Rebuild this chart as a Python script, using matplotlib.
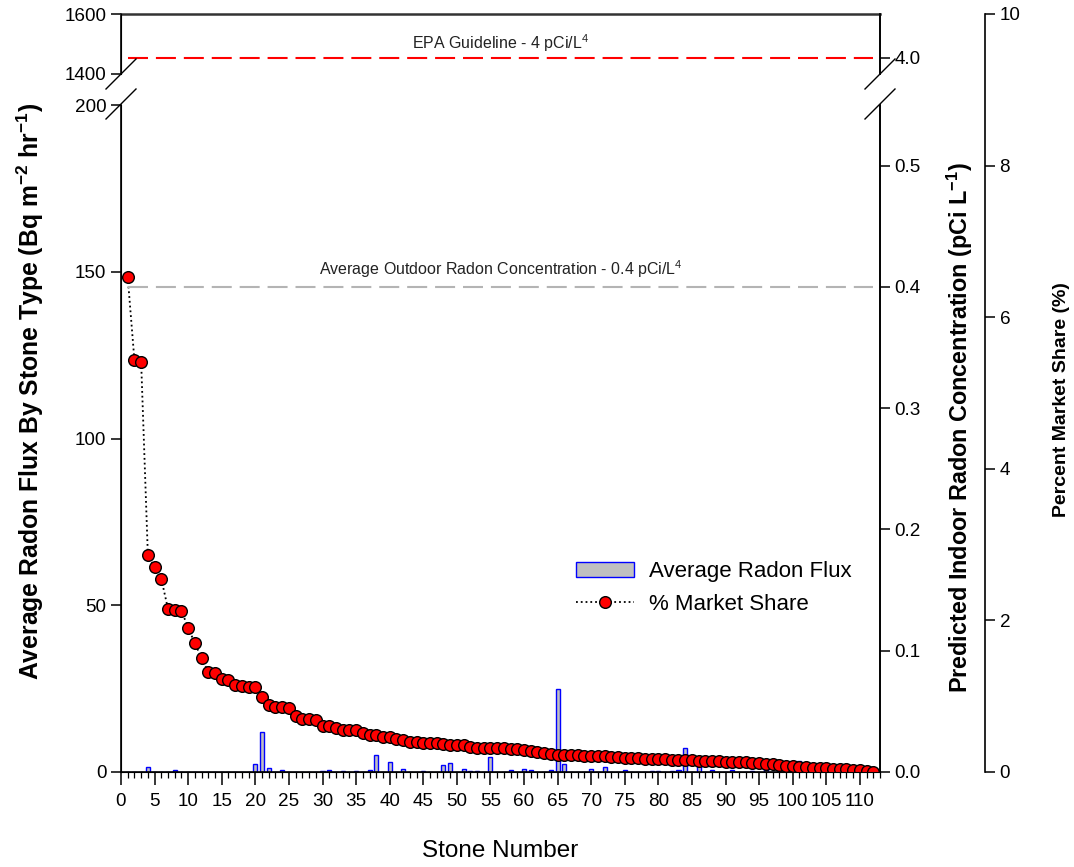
import numpy as np
import matplotlib
matplotlib.use("Agg")
import matplotlib.pyplot as plt
from matplotlib.lines import Line2D
from matplotlib.patches import Patch
from matplotlib.ticker import MultipleLocator, FixedLocator

plt.rcParams['font.family'] = ['Liberation Sans', 'DejaVu Sans']
plt.rcParams['mathtext.fontset'] = 'custom'
plt.rcParams['mathtext.rm'] = 'Liberation Sans'
plt.rcParams['mathtext.it'] = 'Liberation Sans:italic'
plt.rcParams['mathtext.bf'] = 'Liberation Sans:bold'

# ---------------- data ----------------
stones = list(range(1, 113))

market_share = [
    6.53, 5.43, 5.41, 2.86, 2.70, 2.55, 2.15, 2.14, 2.13, 1.90,
    1.70, 1.50, 1.32, 1.31, 1.23, 1.21, 1.15, 1.13, 1.12, 1.12,
    0.99, 0.88, 0.86, 0.86, 0.84, 0.74, 0.70, 0.70, 0.68, 0.61,
    0.61, 0.58, 0.55, 0.55, 0.55, 0.51, 0.49, 0.49, 0.46, 0.46,
    0.43, 0.42, 0.40, 0.39, 0.38, 0.38, 0.38, 0.37, 0.36, 0.35,
    0.35, 0.33, 0.32, 0.32, 0.32, 0.32, 0.32, 0.31, 0.30, 0.29,
    0.28, 0.27, 0.25, 0.24, 0.23, 0.23, 0.22, 0.22, 0.21, 0.21,
    0.207, 0.207, 0.202, 0.198, 0.189, 0.185, 0.180, 0.176, 0.171, 0.167,
    0.167, 0.163, 0.163, 0.154, 0.154, 0.150, 0.150, 0.145, 0.141, 0.136,
    0.132, 0.128, 0.128, 0.119, 0.114, 0.110, 0.101, 0.092, 0.084, 0.079,
    0.070, 0.062, 0.057, 0.053, 0.048, 0.044, 0.040, 0.035, 0.031, 0.026,
    0.018, 0.004,
]

flux_nonzero = {
    4: 1.5, 8: 0.5, 20: 2.5, 21: 12.0, 22: 1.3, 24: 0.5, 30: 0.4, 31: 0.5,
    33: 0.4, 35: 0.2, 37: 0.7, 38: 5.0, 40: 3.0, 42: 0.8, 45: 0.4, 48: 2.2,
    49: 2.7, 51: 0.9, 52: 0.3, 53: 0.2, 55: 4.6, 58: 0.5, 60: 0.8, 61: 0.5,
    64: 0.7, 65: 25.0, 66: 2.3, 70: 0.8, 72: 1.4, 75: 0.7, 79: 0.2, 80: 0.2,
    82: 0.2, 83: 0.7, 84: 7.2, 86: 1.8, 88: 0.5, 91: 0.5, 94: 0.2, 96: 1.0,
    98: 0.2, 101: 3.2, 111: 1.5,
}
avg_flux = [flux_nonzero.get(s, 0.0) for s in stones]

epa_guideline = 4.0        # pCi/L
outdoor_avg = 0.4          # pCi/L
bq_per_pci = 200 / 0.55    # scale between left and right axes

x_ticks = list(range(0, 111, 5))
left_ticks_low = [0, 50, 100, 150, 200]
left_ticks_high = [1400, 1600]
right_ticks_low = [0.0, 0.1, 0.2, 0.3, 0.4, 0.5]
right_ticks_high = [4.0]
share_ticks = [0, 2, 4, 6, 8, 10]

# ---------------- layout ----------------
W, H = 1074, 867
fig = plt.figure(figsize=(W / 100, H / 100), dpi=100)


def rect(x0, y0, x1, y1):
    return [x0 / W, 1 - y1 / H, (x1 - x0) / W, (y1 - y0) / H]


L, R = 121, 880
ax = fig.add_axes(rect(L, 105, R, 772))
axt = fig.add_axes(rect(L, 14, R, 74))
ax3 = fig.add_axes(rect(L, 14, R, 772))

TS = 13.6
tick_kw = dict(direction='out', width=1.1, labelsize=TS, colors='black')
xlim = (0, 113)

# bottom axes
ax.bar(stones, avg_flux, width=0.6, color='#c0c0c0', edgecolor='#0000ff',
       linewidth=1.0, zorder=2)
ax.set_xlim(*xlim)
ax.set_ylim(0, 200)
ax.yaxis.set_major_locator(FixedLocator(left_ticks_low))
ax.xaxis.set_major_locator(FixedLocator(x_ticks))
ax.xaxis.set_minor_locator(MultipleLocator(1))
ax.tick_params(axis='both', which='major', length=7, **tick_kw)
ax.tick_params(axis='x', which='major', length=9)
ax.tick_params(axis='x', which='minor', length=4.5, width=0.9, direction='out')
ax.tick_params(axis='x', pad=6)
ax.spines['top'].set_visible(False)
for s in ax.spines.values():
    s.set_linewidth(1.2)
ax.set_xlabel('Stone Number', fontsize=17.5, labelpad=22)

axr = ax.twinx()
axr.set_ylim(0, 200 / bq_per_pci)
axr.yaxis.set_major_locator(FixedLocator(right_ticks_low))
axr.yaxis.set_major_formatter(plt.FuncFormatter(lambda v, p: f'{v:.1f}'))
axr.tick_params(axis='y', length=7, **tick_kw)
axr.spines['top'].set_visible(False)
axr.spines['right'].set_linewidth(1.2)
axr.axhline(outdoor_avg, xmin=1 / 113, xmax=112 / 113, color='#b4b4b4', lw=1.5,
            linestyle=(0, (9.6, 3.8)), zorder=1)
axr.text(56.5, outdoor_avg + 0.006, 'Average Outdoor Radon Concentration - 0.4 pCi/L$^{4}$',
         ha='center', va='bottom', fontsize=11.5, color='#222222')

# top axes
axt.set_xlim(*xlim)
axt.set_ylim(1400, 1600)
axt.yaxis.set_major_locator(FixedLocator(left_ticks_high))
axt.tick_params(axis='y', length=7, **tick_kw)
axt.set_xticks([])
axt.spines['bottom'].set_visible(False)
for s in axt.spines.values():
    s.set_linewidth(1.2)
axt.spines['top'].set_color('#333333')
axt.spines['top'].set_linewidth(1.8)
axtr = axt.twinx()
axtr.set_ylim(1400 / bq_per_pci, 1600 / bq_per_pci)
axtr.yaxis.set_major_locator(FixedLocator(right_ticks_high))
axtr.yaxis.set_major_formatter(plt.FuncFormatter(lambda v, p: f'{v:.1f}'))
axtr.tick_params(axis='y', length=7, **tick_kw)
axtr.spines['bottom'].set_visible(False)
axtr.spines['top'].set_visible(False)
axtr.spines['right'].set_linewidth(1.2)
axtr.axhline(epa_guideline, xmin=1 / 113, xmax=112 / 113, color='#ff0000', lw=1.5,
             linestyle=(0, (9.6, 3.8)))
axtr.text(56.5, epa_guideline + 0.035, 'EPA Guideline - 4 pCi/L$^{4}$',
          ha='center', va='bottom', fontsize=11.5, color='#222222')

# market share axes (full height)
ax3.patch.set_visible(False)
ax3.set_xlim(*xlim)
ax3.set_ylim(0, 10)
for k in ['left', 'top', 'bottom']:
    ax3.spines[k].set_visible(False)
ax3.spines['right'].set_position(('axes', (985 - L) / (R - L)))
ax3.spines['right'].set_linewidth(1.2)
ax3.yaxis.tick_right()
ax3.yaxis.set_major_locator(FixedLocator(share_ticks))
ax3.tick_params(axis='y', length=7, **tick_kw)
ax3.set_xticks([])
ax3.plot(stones, market_share, linestyle=':', color='black', lw=1.3,
         marker='o', markersize=8.4, markerfacecolor='#ff0000',
         markeredgecolor='black', markeredgewidth=1.0, zorder=5)

# axis labels
fig.text(30 / W, 1 - 391 / H,
         r'Average Radon Flux By Stone Type (Bq m$^{\mathbf{-2}}$ hr$^{\mathbf{-1}}$)',
         rotation=90, ha='center', va='center', fontsize=17.8, fontweight='bold')
fig.text(960 / W, 1 - 428 / H,
         r'Predicted Indoor Radon Concentration (pCi L$^{\mathbf{-1}}$)',
         rotation=90, ha='center', va='center', fontsize=16.8, fontweight='bold')
fig.text(1062 / W, 1 - 400 / H, 'Percent Market Share (%)',
         rotation=90, ha='center', va='center', fontsize=14, fontweight='bold')

# break marks
for xb in (L, R):
    for yb in (74, 104):
        fig.add_artist(Line2D([(xb - 15) / W, (xb + 15) / W],
                              [1 - (yb + 15) / H, 1 - (yb - 15) / H],
                              transform=fig.transFigure, color='black', lw=1.0))

# legend
handles = [Patch(facecolor='#c0c0c0', edgecolor='#0000ff', linewidth=1.0),
           Line2D([], [], linestyle=':', color='black', lw=1.3, marker='o',
                  markersize=8.4, markerfacecolor='#ff0000',
                  markeredgecolor='black')]
fig.legend(handles, ['Average Radon Flux', '% Market Share'],
           loc='center left', bbox_to_anchor=(576 / W, 1 - 588 / H),
           frameon=False, fontsize=16, borderpad=0, borderaxespad=0,
           handlelength=2.6, handletextpad=0.7, labelspacing=0.5)

fig.savefig('out.png', dpi=100)
